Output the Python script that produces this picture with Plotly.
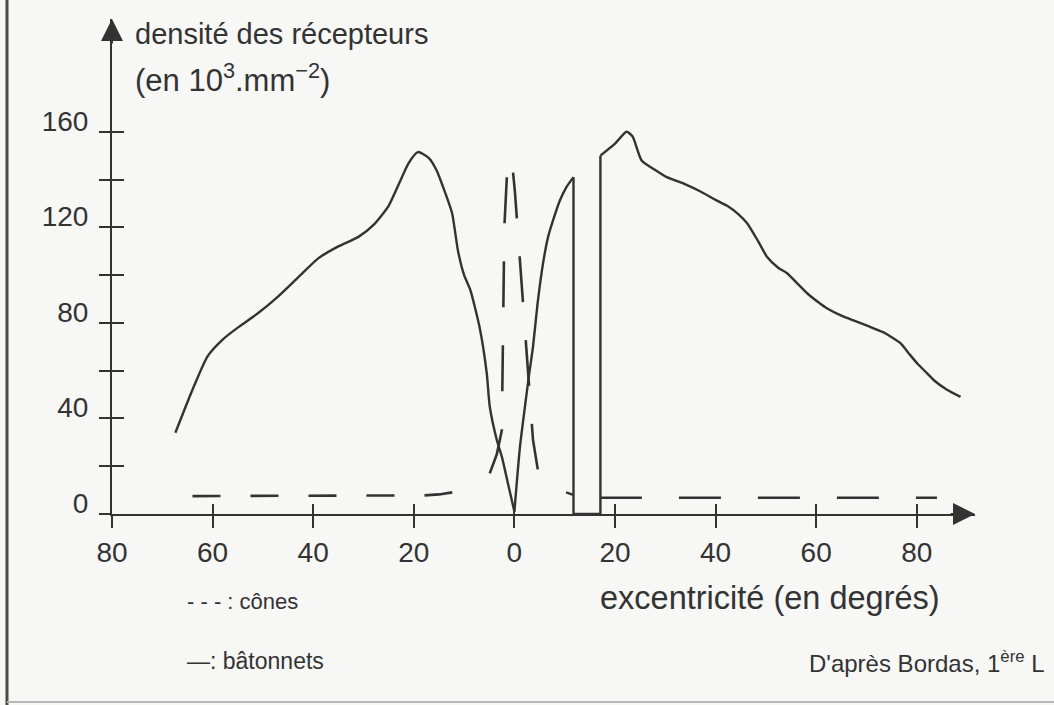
import plotly.graph_objects as go

# ---------------- data ----------------
# rods (bâtonnets) : excentricity (deg, negative = left side) / density (10^3 mm^-2)
rods_x = [-67.4, -64, -61, -58, -55, -51, -47, -43, -39, -35, -31, -28, -25, -23, -21,
          -19.2, -17, -15.5, -14.2, -12.4, -11.2, -10, -8.8, -6.9, -5.5, -4.9, -3.5, -2.5,
          -1.2, 0, 1.1, 2.1, 2.9, 3.7, 4.6, 5.7, 6.7, 7.7, 9, 10.4, 11.75, 11.75, 17.1,
          17.1, 20, 22.3, 23.5, 25.3, 28, 30.3, 34, 37, 40, 42.3, 44.5, 46.3, 48.5, 50.2,
          52.5, 54.2, 56.5, 58.2, 60.5, 62.2, 65, 67.4, 70.5, 73.4, 75, 76.8, 78.5, 80.1,
          82, 83.4, 86, 88.7]
rods_y = [34, 52, 66, 73, 78, 84, 91, 99, 107, 112, 116, 121, 129, 138, 147,
          151.5, 149, 144, 137, 126, 110, 100, 94, 78, 59, 45, 31, 24,
          12, 1, 28, 45, 58, 70, 88, 105, 116, 123, 131, 137, 141, 0, 0,
          150, 155, 160, 158, 148, 144, 141, 138, 135, 131.5, 129, 125.5, 121.6, 114, 107.7,
          103, 100.8, 96, 92.4, 88.5, 86, 83, 81, 78.5, 76, 74, 71.4, 67, 63,
          59, 56, 52, 49]

# cones (cônes)
cones_x = [-64, -50, -40, -25, -18, -15, -11, -7, -4.9, -3.5, -2.5, -2.3, -2.0, -1.3,
           -0.5, 0.1, 0.8, 1.8, 2.8, 3.7, 4.7, 7, 9, 11.7, 17, 20, 30, 45, 60, 75, 84]
cones_y = [7.5, 7.5, 7.5, 7.5, 7.8, 8.2, 9.5, 12.5, 17, 25, 35, 70, 120, 149.5,
           148, 135, 114, 85, 55, 31, 18, 12, 10, 8, 6.8, 6.8, 6.8, 6.8, 6.8, 6.8, 6.8]

x_tickvals = [-80, -60, -40, -20, 0, 20, 40, 60, 80]
x_ticktext = ["80", "60", "40", "20", "0", "20", "40", "60", "80"]
y_tickvals = [0, 20, 40, 60, 80, 100, 120, 140, 160]
y_ticktext = ["0", "", "40", "", "80", "", "120", "", "160"]

# ---------------- layout geometry ----------------
W, H = 1054, 705
ML, MR, MT, MB = 112, 79, 19, 191
PW, PH = W - ML - MR, H - MT - MB
X_RANGE = [-80, -80 + PW / 5.03]
Y_RANGE = [0, PH / 2.389]


def px(xp):
    return (xp - ML) / PW


def py(yp):
    return (H - MB - yp) / PH


INK = "#333333"
FONT = "Liberation Sans"

fig = go.Figure()
# rods: pieces split at the sharp corners (same series, drawn in consecutive pieces)
rod_pieces = [(slice(0, 30), "spline"), (slice(29, 41), "spline"),
              (slice(40, 44), "linear"), (slice(43, None), "spline")]
for sl, shp in rod_pieces:
    fig.add_trace(go.Scatter(x=rods_x[sl], y=rods_y[sl], mode="lines", name="bâtonnets",
                             line=dict(color=INK, width=2.4, shape=shp, smoothing=0.6),
                             cliponaxis=False, showlegend=False))
# cones: drawn in three pieces whose hand-drawn dash lengths differ
cone_pieces = [(slice(0, 8), "28px,30px"), (slice(8, 24), "46px,38px"),
               (slice(24, None), "42px,37px")]
for sl, dash in cone_pieces:
    fig.add_trace(go.Scatter(x=cones_x[sl], y=cones_y[sl], mode="lines", name="cônes",
                             line=dict(color=INK, width=2.6, dash=dash),
                             cliponaxis=False, showlegend=False))
# helper invisible trace so the overlay axes are drawn
fig.add_trace(go.Scatter(x=[X_RANGE[0]], y=[Y_RANGE[0]], xaxis="x2", yaxis="y2",
                         mode="markers", marker=dict(opacity=0), showlegend=False,
                         hoverinfo="skip"))

axis_common = dict(showgrid=False, zeroline=False, ticks="outside", tickwidth=2,
                   tickcolor=INK, linecolor=INK, linewidth=2, showline=True,
                   tickfont=dict(family=FONT, size=28, color=INK))

fig.update_layout(
    width=W, height=H,
    margin=dict(l=ML, r=MR, t=MT, b=MB),
    paper_bgcolor="#f7f7f5", plot_bgcolor="#f7f7f5",
    showlegend=False,
    xaxis=dict(range=X_RANGE, tickvals=x_tickvals, ticktext=x_ticktext, ticklen=12,
               **axis_common),
    yaxis=dict(range=Y_RANGE, tickvals=y_tickvals, ticktext=y_ticktext, ticklen=11,
               ticklabelshift=-11, ticklabelstandoff=5, **axis_common),
    xaxis2=dict(range=X_RANGE, overlaying="x", side="bottom", anchor="y2",
                tickvals=x_tickvals, ticks="inside", ticklen=10, tickwidth=2,
                tickcolor=INK, showticklabels=False, showgrid=False, zeroline=False,
                showline=False),
    yaxis2=dict(range=Y_RANGE, overlaying="y", side="left", anchor="x2",
                tickvals=y_tickvals, ticks="inside", ticklen=12, tickwidth=2,
                tickcolor=INK, showticklabels=False, showgrid=False, zeroline=False,
                showline=False),
)

# axis arrows
fig.add_annotation(x=X_RANGE[1], y=0, ax=-26, ay=0, text="", showarrow=True,
                   arrowhead=2, arrowsize=2.2, arrowwidth=2, arrowcolor=INK)
fig.add_annotation(x=X_RANGE[0], y=Y_RANGE[1], ax=0, ay=26, text="", showarrow=True,
                   arrowhead=2, arrowsize=2.2, arrowwidth=2, arrowcolor=INK)

texts = [
    ("densité des récepteurs", 133, 34, 29, "left"),
    ("(en 10<sup>3</sup>.mm<sup>−2</sup>)", 133, 78, 31, "left"),
    ("excentricité (en degrés)", 598, 598, 32.5, "left"),
    ("- - - : cônes", 185, 601, 22, "left"),
    ("—: bâtonnets", 185, 661, 23, "left"),
    ("D'après Bordas, 1<sup>ère</sup> L", 1047, 662, 24, "right"),
]
for t, xp, yp, size, anchor in texts:
    fig.add_annotation(xref="paper", yref="paper", x=px(xp), y=py(yp), text=t,
                       showarrow=False, xanchor=anchor, yanchor="middle",
                       font=dict(family=FONT, size=size, color=INK))

# frame lines
fig.add_shape(type="line", xref="paper", yref="paper", x0=px(7), x1=px(7),
              y0=py(0), y1=py(705), line=dict(color="#4a4a4a", width=3))
fig.add_shape(type="line", xref="paper", yref="paper", x0=px(7), x1=px(1054),
              y0=py(702), y1=py(702), line=dict(color="#b8b8b8", width=2))

fig.write_html("out.html", config={"displayModeBar": False},
               post_script="document.body.style.margin='0';document.body.style.overflow='hidden';")
